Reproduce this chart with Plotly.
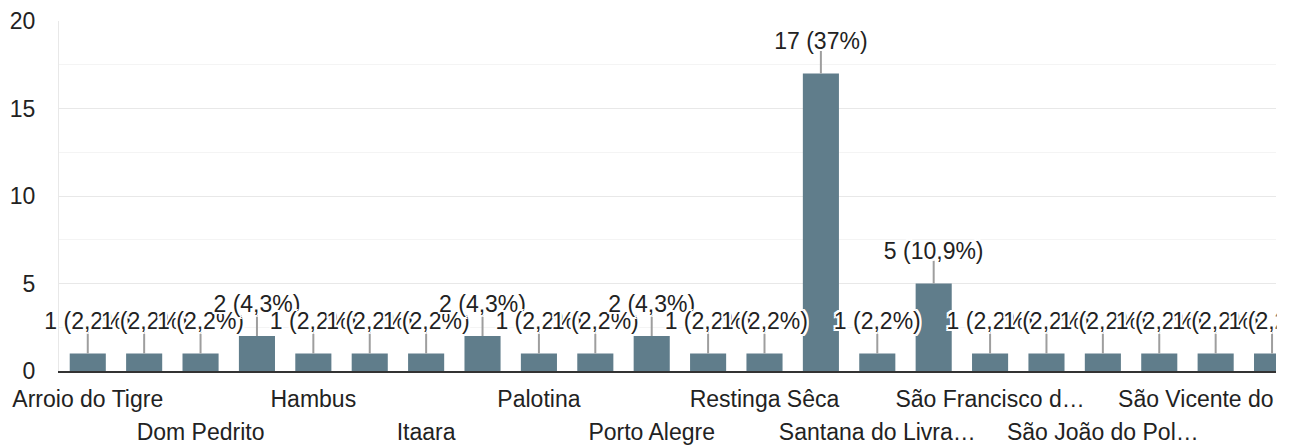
import plotly.graph_objects as go

# ---- data -------------------------------------------------------------
CATEGORIES = [
    "Arroio do Tigre", "Cachoeira do Sul", "Dom Pedrito", "Faxinal do Soturno",
    "Hambus", "Ijuí", "Itaara", "Jaguari", "Palotina", "Paraíso do Sul",
    "Porto Alegre", "Quevedos", "Restinga Sêca", "Santa Maria",
    "Santana do Livramento", "Santiago", "São Francisco de Assis", "São Gabriel",
    "São João do Polêsine", "São Pedro do Sul", "São Vicente do Sul",
    "Silveira Martins", "Vale Vêneto",
]
VALUES = [1, 1, 1, 2, 1, 1, 1, 2, 1, 1, 2, 1, 1, 17, 1, 5, 1, 1, 1, 1, 1, 1, 1]

# visible axis labels (every other category, in two alternating rows)
ROW1_CATS = ["Arroio do Tigre", "Hambus", "Palotina", "Restinga Sêca",
             "São Francisco de Assis", "São Vicente do Sul"]
ROW1_TEXT = ["Arroio do Tigre", "Hambus", "Palotina", "Restinga Sêca",
             "São Francisco d…", "São Vicente do Sul"]
ROW2_CATS = ["Dom Pedrito", "Itaara", "Porto Alegre", "Santana do Livramento",
             "São João do Polêsine"]
ROW2_TEXT = ["Dom Pedrito", "Itaara", "Porto Alegre", "Santana do Livra…",
             "São João do Pol…"]

Y_TICKS = [0, 5, 10, 15, 20]

# ---- derived label text -----------------------------------------------
total = sum(VALUES)


def fmt_pct(v):
    p = round(100 * v / total, 1)
    s = f"{p:.1f}".replace(".", ",")
    if s.endswith(",0"):
        s = s[:-2]
    return f"{v} ({s}%)"


LABELS = [fmt_pct(v) for v in VALUES]

# ---- style --------------------------------------------------------------
FONT = "Liberation Sans, Arial, sans-serif"
FS = 23
TEXT_COLOR = "#222222"
BAR_COLOR = "#607d8b"
LEADER_UNITS = 1.31      # leader line length (axis units)
LABEL_UNITS = 1.72       # label centre above bar top (axis units)
X_RANGE = [-0.51, 21.07]
HALO = ",".join(f"{dx}px {dy}px 0px white" for dx, dy in
                [(2, 0), (-2, 0), (0, 2), (0, -2), (2, 2), (-2, -2), (2, -2), (-2, 2),
                 (1, 0), (-1, 0), (0, 1), (0, -1)])

fig = go.Figure()

fig.add_trace(go.Bar(
    x=CATEGORIES, y=VALUES, marker=dict(color=BAR_COLOR, line=dict(width=0)),
    hoverinfo="skip", showlegend=False,
))

# leader lines (one-sided error bars from bar tops)
fig.add_trace(go.Scatter(
    x=CATEGORIES, y=VALUES, mode="markers",
    marker=dict(size=1, opacity=0),
    error_y=dict(type="data", symmetric=False,
                 array=[LEADER_UNITS] * len(VALUES),
                 arrayminus=[0] * len(VALUES),
                 color="#9e9e9e", thickness=2, width=0),
    hoverinfo="skip", showlegend=False, cliponaxis=True,
))

# value labels with white halo
fig.add_trace(go.Scatter(
    x=CATEGORIES, y=[v + LABEL_UNITS for v in VALUES], mode="text",
    text=LABELS, textposition="middle center",
    textfont=dict(family=FONT, size=FS, color=TEXT_COLOR, shadow=HALO),
    hoverinfo="skip", showlegend=False, cliponaxis=False,
))

# dummy trace for second (lower row) x axis
fig.add_trace(go.Scatter(x=[], y=[], xaxis="x2", showlegend=False, hoverinfo="skip"))

row2_pos = [CATEGORIES.index(c) for c in ROW2_CATS]

fig.update_layout(
    width=1294, height=445, autosize=False,
    margin=dict(l=59, r=18, t=21, b=74),
    paper_bgcolor="white", plot_bgcolor="white",
    font=dict(family=FONT, size=FS, color=TEXT_COLOR),
    bargap=0.36,
    hovermode=False,
    xaxis=dict(
        type="category", categoryorder="array", categoryarray=CATEGORIES,
        range=X_RANGE, tickmode="array", tickvals=ROW1_CATS, ticktext=ROW1_TEXT,
        showgrid=False, zeroline=False, ticks="", automargin=False,
        showline=True, linecolor="#333333", linewidth=2,
        ticklabelstandoff=6,
        tickfont=dict(family=FONT, size=FS, color=TEXT_COLOR),
    ),
    xaxis2=dict(
        type="linear", overlaying="x", side="bottom", anchor="y",
        range=X_RANGE, tickmode="array", tickvals=row2_pos, ticktext=ROW2_TEXT,
        showgrid=False, zeroline=False, showline=False, ticks="", automargin=False,
        ticklabelstandoff=45,
        tickfont=dict(family=FONT, size=FS, color=TEXT_COLOR),
    ),
    yaxis=dict(
        range=[0, 20], tickmode="array", tickvals=Y_TICKS, automargin=False,
        showgrid=True, gridcolor="#e8e8e8", gridwidth=1,
        minor=dict(dtick=2.5, showgrid=True, gridcolor="#f4f4f4", gridwidth=1),
        zeroline=False, showline=True, linecolor="#e8e8e8", linewidth=1,
        ticks="", ticklabelstandoff=18,
        tickfont=dict(family=FONT, size=FS, color=TEXT_COLOR),
    ),
    shapes=[dict(type="rect", xref="paper", yref="paper",
                 x0=1.0005, x1=1.1, y0=-0.5, y1=1.2,
                 fillcolor="white", line=dict(width=0), layer="above")],
)

fig.write_html("out.html",
               config={"displayModeBar": False, "staticPlot": True},
               post_script="document.body.style.margin='0px';"
                           "document.body.style.overflow='hidden';")
